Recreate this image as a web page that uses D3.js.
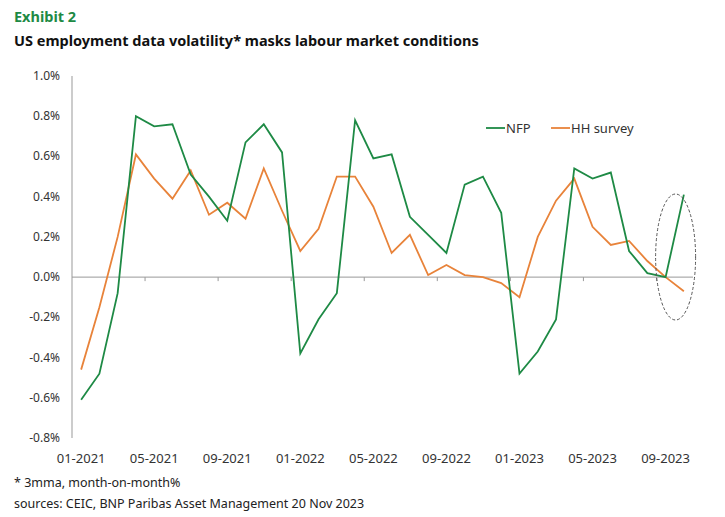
<!DOCTYPE html>
<html>
<head>
<meta charset="utf-8">
<script src="https://cdn.jsdelivr.net/npm/d3@7"></script>
<style>
  body { margin: 0; background: #fff; }
  text { font-family: 'Noto Sans', sans-serif; }
</style>
</head>
<body>
<svg width="725" height="517"></svg>
<script>
const months = [
  '01-2021','02-2021','03-2021','04-2021','05-2021','06-2021','07-2021','08-2021','09-2021','10-2021','11-2021','12-2021',
  '01-2022','02-2022','03-2022','04-2022','05-2022','06-2022','07-2022','08-2022','09-2022','10-2022','11-2022','12-2022',
  '01-2023','02-2023','03-2023','04-2023','05-2023','06-2023','07-2023','08-2023','09-2023','10-2023'
];
const nfp = [-0.61,-0.48,-0.08,0.80,0.75,0.76,0.51,0.40,0.28,0.67,0.76,0.62,
  -0.38,-0.21,-0.08,0.78,0.59,0.61,0.30,0.21,0.12,0.46,0.50,0.32,
  -0.48,-0.37,-0.21,0.54,0.49,0.52,0.13,0.02,0.00,0.41];
const hh = [-0.46,-0.15,0.20,0.61,0.49,0.39,0.53,0.31,0.37,0.29,0.54,0.33,
  0.13,0.24,0.50,0.50,0.35,0.12,0.21,0.01,0.06,0.01,0.00,-0.03,
  -0.10,0.20,0.38,0.49,0.25,0.16,0.18,0.08,0.00,-0.07];
const yTicks = [-0.8,-0.6,-0.4,-0.2,0,0.2,0.4,0.6,0.8,1.0];

const svg = d3.select('svg');
const green = '#1e8a45', orange = '#e8833a';

svg.append('text').attr('x', 14).attr('y', 22).attr('fill', green)
  .attr('font-weight', 'bold').attr('font-size', 14.5).text('Exhibit 2');
svg.append('text').attr('x', 14).attr('y', 46).attr('fill', '#111')
  .attr('font-weight', 'bold').attr('font-size', 14.5)
  .text('US employment data volatility* masks labour market conditions');

const x = d3.scaleBand().domain(months).range([72, 693]);
const y = d3.scaleLinear().domain([-0.8, 1.0]).range([438, 76]);
const cx = d => x(d) + x.bandwidth() / 2;

// y labels
svg.append('g').selectAll('text').data(yTicks).join('text')
  .attr('x', 60).attr('y', d => y(d) + 4).attr('text-anchor', 'end')
  .attr('font-size', 12).attr('fill', '#333')
  .text(d => d.toFixed(1) + '%');
svg.append('line').attr('x1', 72).attr('x2', 72).attr('y1', 76).attr('y2', 438)
  .attr('stroke', '#999');
svg.append('line').attr('x1', 72).attr('x2', 693).attr('y1', y(0)).attr('y2', y(0))
  .attr('stroke', '#999');
// x ticks between categories, labels every 4 months
const tickIdx = d3.range(4, 34, 4);
svg.append('g').selectAll('line').data(tickIdx).join('line')
  .attr('x1', i => x(months[i])).attr('x2', i => x(months[i]))
  .attr('y1', y(0)).attr('y2', y(0) + 4).attr('stroke', '#999');
svg.append('g').selectAll('text').data(months.filter((m, i) => i % 4 === 0)).join('text')
  .attr('x', cx).attr('y', 463).attr('text-anchor', 'middle')
  .attr('font-size', 13).attr('fill', '#333').text(d => d);

const line = d3.line().x((d, i) => cx(months[i])).y(d => y(d));
svg.append('path').attr('d', line(hh)).attr('fill', 'none')
  .attr('stroke', orange).attr('stroke-width', 1.8);
svg.append('path').attr('d', line(nfp)).attr('fill', 'none')
  .attr('stroke', green).attr('stroke-width', 1.8);

// highlight ellipse
svg.append('ellipse').attr('cx', cx(months[32]) + 10).attr('cy', y(0.1))
  .attr('rx', 20).attr('ry', 63).attr('fill', 'none')
  .attr('stroke', '#555').attr('stroke-dasharray', '3,2');

// legend
const legend = [['NFP', green, 486], ['HH survey', orange, 551]];
legend.forEach(([name, c, lx]) => {
  svg.append('line').attr('x1', lx).attr('x2', lx + 19).attr('y1', 128).attr('y2', 128)
    .attr('stroke', c).attr('stroke-width', 1.8);
  svg.append('text').attr('x', lx + 20).attr('y', 133).attr('font-size', 13)
    .attr('fill', '#333').text(name);
});

svg.append('text').attr('x', 14).attr('y', 487).attr('font-size', 12.5).attr('fill', '#222')
  .text('* 3mma, month-on-month%');
svg.append('text').attr('x', 14).attr('y', 508).attr('font-size', 12.5).attr('fill', '#222')
  .text('sources: CEIC, BNP Paribas Asset Management  20 Nov 2023');
</script>
</body>
</html>
